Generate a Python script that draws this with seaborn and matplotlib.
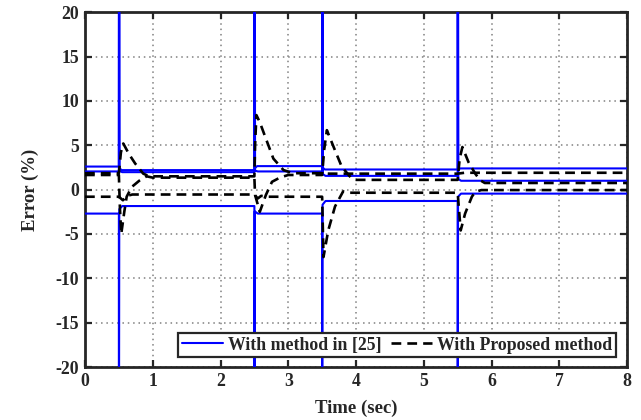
import matplotlib
matplotlib.use("Agg")
import matplotlib.pyplot as plt
from matplotlib.lines import Line2D
import seaborn as sns
import pandas as pd

# ---------------- data ----------------
# Blue: "With method in [25]" (three phases)
b1_t = [0, 0.5, 0.5, 0.506, 0.54, 2.5, 2.5, 2.506, 2.54, 3.5, 3.5, 3.506, 3.54, 5.5, 5.5, 5.506, 5.54, 8]
b1_v = [2.6, 2.6, 40, 2.45, 2.2, 2.2, 40, 2.4, 2.65, 2.65, 40, 2.5, 2.27, 2.27, 40, 2.25, 2.39, 2.39]
b2_t = [0, 0.5, 0.505, 0.51, 0.55, 2.5, 2.505, 2.51, 2.55, 3.5, 3.505, 3.51, 3.55, 5.5, 5.505, 5.51, 5.55, 8]
b2_v = [2.05, 2.05, 40, 2.1, 1.97, 1.97, 40, 2.15, 2.05, 2.05, 40, 1.75, 1.55, 1.55, 40, 1.2, 1.0, 1.0]
b3_t = [0, 0.5, 0.5, 0.506, 0.55, 2.5, 2.5, 2.506, 2.55, 3.5, 3.5, 3.506, 3.55, 5.5, 5.5, 5.506, 5.55, 8]
b3_v = [-2.7, -2.7, -40, -2.2, -1.85, -1.85, -40, -2.45, -2.7, -2.7, -40, -1.7, -1.28, -1.28, -40, -0.8, -0.45, -0.45]

# Black dashed: "With Proposed method" (three phases)
d1_t = [0, 0.5, 0.53, 0.565, 0.65, 0.74, 0.86, 0.95, 2.5, 2.51, 2.53, 2.58, 2.66, 2.78, 2.93, 3.07,
        3.5, 3.6, 5.5, 5.6, 8]
d1_v = [1.85, 1.85, 4.2, 5.2, 4.0, 2.95, 1.8, 1.5, 1.5, 5.0, 8.4, 7.6, 5.95, 3.5, 2.2, 1.85,
        1.85, 1.8, 1.8, 1.9, 1.9]
d2_t = [0, 0.5, 0.515, 0.535, 0.58, 0.615, 0.69, 0.8, 0.91, 1.0,
        2.5, 2.51, 2.58, 2.67, 2.76, 2.88, 3.0,
        3.5, 3.53, 3.57, 3.67, 3.79, 3.93, 4.0,
        5.5, 5.53, 5.57, 5.66, 5.76, 5.83, 5.9, 8]
d2_v = [1.65, 1.65, -2.0, -5.0, -2.5, -0.8, 0.3, 1.0, 1.5, 1.35,
        1.35, -0.6, -2.5, -0.6, 0.88, 1.37, 1.65,
        1.65, 4.5, 6.7, 4.8, 2.57, 1.3, 1.1,
        1.1, 3.5, 4.8, 3.1, 1.8, 1.07, 0.75, 0.75]
d3_t = [0, 0.5, 0.56, 0.62, 0.7, 2.5, 2.55, 2.6, 2.7,
        3.5, 3.52, 3.59, 3.69, 3.81, 3.9,
        5.5, 5.545, 5.61, 5.71, 5.76, 5.85, 8]
d3_v = [-0.8, -0.8, -1.2, -0.7, -0.55, -0.55, -1.0, -0.7, -0.8,
        -0.8, -7.6, -4.6, -1.9, -0.2, -0.35,
        -0.35, -4.6, -2.7, -0.8, -0.25, -0.05, -0.05]

x_ticks = [0, 1, 2, 3, 4, 5, 6, 7, 8]
y_ticks = [-20, -15, -10, -5, 0, 5, 10, 15, 20]
legend_labels = ["With method in [25]", "With Proposed method"]

# ---------------- build tables ----------------
def table(series):
    rows = []
    for name, (ts, vs) in series.items():
        for t, v in zip(ts, vs):
            rows.append({"t": t, "err": v, "phase": name})
    return pd.DataFrame(rows)

df_blue = table({"a": (b1_t, b1_v), "b": (b2_t, b2_v), "c": (b3_t, b3_v)})
df_black = table({"a": (d1_t, d1_v), "b": (d2_t, d2_v), "c": (d3_t, d3_v)})

# ---------------- style ----------------
sns.set_style("white")
plt.rcParams["font.family"] = ["Liberation Serif", "DejaVu Serif"]
plt.rcParams["font.weight"] = "bold"

fig = plt.figure(figsize=(6.41, 4.20), dpi=100)
ax = fig.add_axes([0.1326, 0.126, 0.8456, 0.845])

blue = "#0000ff"
dash_style = (0, (3.7, 2.3))

sns.lineplot(data=df_blue, x="t", y="err", units="phase", estimator=None, sort=False,
             color=blue, linewidth=1.5, ax=ax, legend=False, zorder=3)
sns.lineplot(data=df_black, x="t", y="err", units="phase", estimator=None, sort=False,
             color="black", linewidth=1.9, linestyle=dash_style, ax=ax, legend=False, zorder=4)

ax.set_xlim(0, 8)
ax.set_ylim(-20, 20)
ax.set_xticks(x_ticks)
ax.set_yticks(y_ticks)
ax.set_xticklabels([str(v) for v in x_ticks], fontsize=12.8, fontweight="bold")
ax.set_yticklabels([str(v) for v in y_ticks], fontsize=12.8, fontweight="bold")

ax.grid(True, color="#808080", linestyle=(0, (1, 2.5)), linewidth=1.1)
ax.set_axisbelow(True)

for s in ax.spines.values():
    s.set_visible(True)
    s.set_color("#262626")
    s.set_linewidth(2.0)
ax.tick_params(direction="in", length=5, width=1.6, color="#262626",
               top=True, right=True, bottom=True, left=True, pad=4, labelcolor="#262626")

ax.set_xlabel("Time (sec)", fontsize=13.5, fontweight="bold", labelpad=7, color="#262626")
ax.set_ylabel("Error (%)", fontsize=13.5, fontweight="bold", labelpad=12, color="#262626")

handles = [Line2D([], [], color=blue, linewidth=1.5),
           Line2D([], [], color="black", linewidth=1.9, linestyle=dash_style)]
leg = ax.legend(handles, legend_labels, loc="lower right", bbox_to_anchor=(0.979, 0.028),
                ncol=2, fancybox=False, framealpha=1, edgecolor="#262626",
                prop={"weight": "bold", "size": 12.8}, handlelength=2.3, handletextpad=0.3,
                columnspacing=0.5, borderpad=0.2, borderaxespad=0)
leg.get_frame().set_linewidth(1.6)
leg.set_zorder(10)

fig.savefig("out.png", dpi=100)
